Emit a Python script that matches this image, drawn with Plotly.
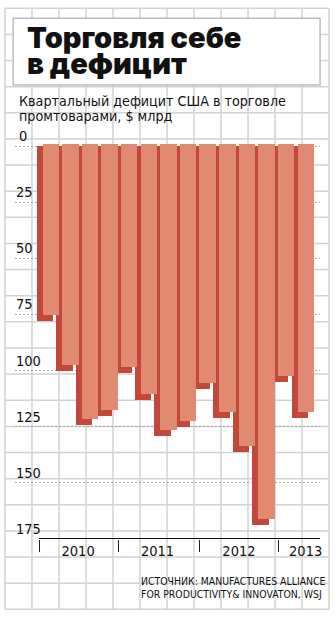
import plotly.graph_objects as go
import numpy as np

# ---- data ----
quarters = ["2010 Q1", "2010 Q2", "2010 Q3", "2010 Q4",
            "2011 Q1", "2011 Q2", "2011 Q3", "2011 Q4",
            "2012 Q1", "2012 Q2", "2012 Q3", "2012 Q4",
            "2013 Q1", "2013 Q2"]
deficit = [78, 100, 124, 120, 101, 113, 129, 125, 108, 121, 136, 168.5, 105, 121]
years = ["2010", "2011", "2012", "2013"]
y_ticks = [0, 25, 50, 75, 100, 125, 150, 175]
y_ticktext = [str(v) for v in y_ticks]

W, H = 336, 618
x = np.arange(len(quarters))
vals = np.array(deficit, dtype=float)

# geometry (pixel-based style constants)
PX_PER_UNIT_Y = 2.245
depth = 6 / PX_PER_UNIT_Y      # extrusion depth in value units
lift = 2 / PX_PER_UNIT_Y
bar_w = 0.841
front_off = -0.269
shadow_off = -0.573

FRONT = "#e08a71"
SHADOW = "#c3473a"
COND = "DejaVu Sans Condensed, DejaVu Sans, sans-serif"

fig = go.Figure()
# shadow (extrusion)
fig.add_trace(go.Bar(x=x, y=vals, base=0, width=bar_w, offset=shadow_off,
                     marker=dict(color=SHADOW, line=dict(width=0)),
                     hoverinfo="skip", showlegend=False))
# front face
fig.add_trace(go.Bar(x=x, y=vals - depth + lift, base=-lift, width=bar_w, offset=front_off,
                     marker=dict(color=FRONT, line=dict(width=0)),
                     hoverinfo="skip", showlegend=False))

# axes
x_left, x_right = 15, 322
x_range = [-1.672, 13.887]
y_range = [175, -1.5]
y_top_px = 146 + y_range[1] * PX_PER_UNIT_Y
y_bot_px = 146 + y_range[0] * PX_PER_UNIT_Y

year_edges = [-0.44, 3.63, 7.72, 11.79]
year_label_pos = [1.55, 5.6, 9.75, 13.15]

fig.update_layout(
    width=W, height=H, autosize=False,
    margin=dict(l=0, r=0, t=0, b=0),
    paper_bgcolor="white", plot_bgcolor="rgba(0,0,0,0)",
    barmode="overlay", bargap=0,
    showlegend=False,
    xaxis=dict(domain=[x_left / W, x_right / W], range=x_range,
               showgrid=False, zeroline=False, showline=False,
               tickvals=year_label_pos, ticktext=years, ticks="", ticklen=0,
               tickfont=dict(family=COND, size=14.5, color="#111"),
               ticklabelstandoff=2,
               minor=dict(tickvals=year_edges, ticks="outside", ticklen=12,
                          tickcolor="#222", tickwidth=1, showgrid=False)),
    yaxis=dict(domain=[1 - y_bot_px / H, 1 - y_top_px / H], range=y_range,
               showgrid=False, zeroline=False, showline=False,
               showticklabels=False, ticks="",
               minor=dict(tickvals=y_ticks[:-1], showgrid=True, gridcolor="#a8a8a8",
                          gridwidth=1, griddash="2px,2px", ticks="")),
)

shapes = []
# graph paper background
for k in range(13):
    px = 5 + 27.17 * k
    shapes.append(dict(type="line", xref="paper", yref="paper", x0=px / W, x1=px / W,
                       y0=1 - 8.3 / H, y1=1 - 609.3 / H, layer="below",
                       line=dict(color="#d2d2d2", width=1.5)))
for k in range(24):
    py = 8.3 + 26.13 * k
    shapes.append(dict(type="line", xref="paper", yref="paper", x0=5 / W, x1=331 / W,
                       y0=1 - py / H, y1=1 - py / H, layer="below",
                       line=dict(color="#d2d2d2", width=1.5)))
# title box
shapes.append(dict(type="rect", xref="paper", yref="paper", x0=13.3 / W, x1=322 / W,
                   y0=1 - 18.3 / H, y1=1 - 85 / H, layer="below",
                   fillcolor="white", line=dict(color="#bdbdbd", width=1.5)))
# x axis line
shapes.append(dict(type="line", xref="x", yref="y", x0=year_edges[0], x1=x_range[1],
                   y0=y_range[0], y1=y_range[0], layer="above",
                   line=dict(color="#111", width=1.5)))
fig.update_layout(shapes=shapes)

ann = []
def add_text(txt, px, py, size, family, weight="normal", color="#111"):
    ann.append(dict(text=txt, xref="paper", yref="paper", x=px / W, y=1 - py / H,
                    xanchor="left", yanchor="middle", showarrow=False,
                    font=dict(family=family, size=size, color=color, weight=weight)))

# y tick labels sitting above their gridlines
for v, t in zip(y_ticks, y_ticktext):
    one = len(t) == 1
    ann.append(dict(text=t, xref="paper", yref="y", x=(29.5 if one else 14) / W, y=v,
                    xanchor="right" if one else "left", yanchor="middle", yshift=10,
                    showarrow=False, font=dict(family=COND, size=14.5, color="#111")))

TITLE_FONT = "Inter, Roboto, DejaVu Sans, sans-serif"
add_text("Торговля себе", 25, 37, 29, TITLE_FONT, weight=900)
add_text("в дефицит", 25, 64, 29, TITLE_FONT, weight=900)
add_text("Квартальный дефицит США в торговле", 17, 101, 14.2, COND)
add_text("промтоварами, $ млрд", 17, 116, 14.2, COND)
add_text("ИСТОЧНИК: MANUFACTURES ALLIANCE", 140, 581, 10.4, COND)
add_text("FOR PRODUCTIVITY& INNOVATON, WSJ", 140, 594, 10.4, COND)
fig.update_layout(annotations=ann)

fig.write_html("out.html")
